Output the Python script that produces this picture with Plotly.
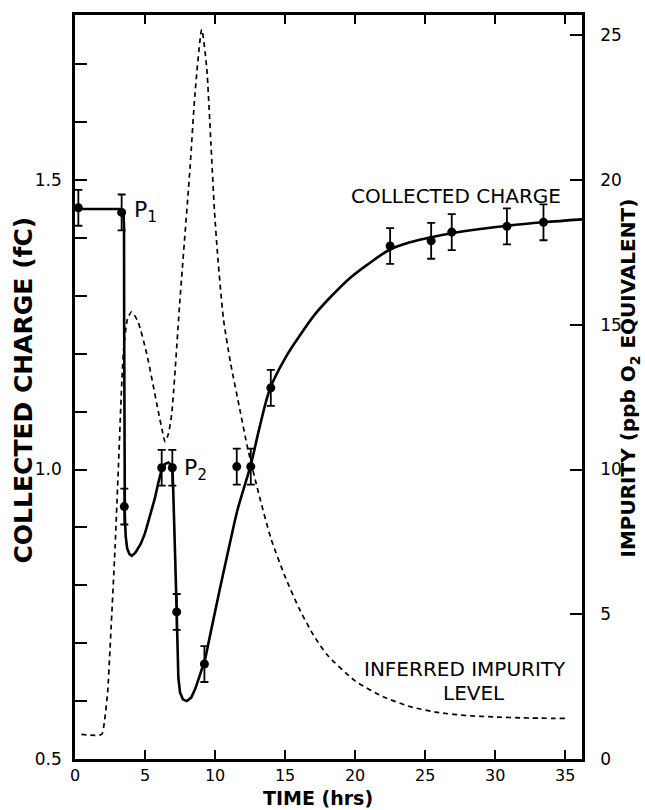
import plotly.graph_objects as go

# ---------------- data ----------------
# measured collected charge (fC) with error bars
pt_time = [0.24, 3.33, 3.52, 6.19, 6.95, 7.26, 9.24, 11.55, 12.55, 13.98,
           22.5, 25.43, 26.9, 30.84, 33.45]
pt_charge = [1.452, 1.444, 0.936, 1.003, 1.003, 0.754, 0.664, 1.005, 1.005,
             1.141, 1.386, 1.395, 1.41, 1.42, 1.427]
pt_err = [0.031] * len(pt_time)

# fitted collected-charge curve (solid): fast part with the sharp drops
fit_time_a = [0.0, 3.30, 3.45, 3.50, 3.51, 3.52, 3.53, 3.56, 3.62, 3.72,
              3.88, 4.05, 4.3, 4.7, 5.0, 5.36, 5.7, 5.95, 6.19, 6.45, 6.67,
              6.85, 6.95, 7.0, 7.05, 7.15, 7.26, 7.31, 7.38, 7.5, 7.7, 7.98,
              8.3, 8.6, 8.93, 9.29]
fit_charge_a = [1.450, 1.450, 1.447, 1.42, 1.25, 1.10, 0.98, 0.92, 0.885,
                0.864, 0.854, 0.851, 0.856, 0.872, 0.89, 0.92, 0.95, 0.977,
                1.000, 1.010, 1.012, 1.008, 1.003, 0.975, 0.94, 0.85, 0.754,
                0.69, 0.64, 0.615, 0.603, 0.600, 0.606, 0.622, 0.645, 0.672]
# ... and the slow recovery
fit_time_b = [9.29, 9.7, 10.4, 11.07, 11.6, 12.02, 12.55, 13.2, 13.93, 15.0,
              16.07, 17.2, 18.45, 19.6, 20.83, 22.5, 24.0, 25.43, 26.9, 28.8,
              30.84, 33.45, 36.2]
fit_charge_b = [0.672, 0.72, 0.80, 0.874, 0.93, 0.965, 1.008, 1.075, 1.14,
                1.192, 1.232, 1.27, 1.303, 1.33, 1.353, 1.38, 1.393, 1.401,
                1.408, 1.415, 1.421, 1.427, 1.432]

# inferred impurity level (ppb O2 equivalent, dashed)
imp_time = [0.45, 1.9, 2.1, 2.33, 2.5, 2.86, 3.1, 3.45, 3.75, 4.05, 4.5,
            5.12, 5.95, 6.25, 6.43, 6.65, 6.9, 7.5, 8.21, 8.57, 9.05, 9.4,
            9.7, 9.95, 10.2, 10.6, 11.1, 11.8, 12.3, 13.1, 14.0, 15.0, 16.0,
            17.0, 18.0, 20.0, 22.0, 24.0, 26.0, 28.0, 30.0, 32.0, 35.1]
imp_level = [0.85, 0.85, 1.3, 2.3, 3.8, 7.3, 10.1, 14.0, 15.2, 15.45, 15.1,
             14.0, 12.0, 11.3, 10.96, 11.2, 11.9, 15.9, 20.4, 23.0, 25.2,
             23.9, 21.3, 19.0, 17.3, 15.2, 13.7, 12.0, 10.8, 9.2, 7.6, 6.3,
             5.2, 4.3, 3.6, 2.7, 2.15, 1.8, 1.6, 1.5, 1.45, 1.42, 1.4]

x_ticks = [0, 5, 10, 15, 20, 25, 30, 35]
left_ticks = [0.5, 1.0, 1.5]
left_labels = ["0.5", "1.0", "1.5"]
left_minor_ticks = [0.6, 0.7, 0.8, 0.9, 1.1, 1.2, 1.3, 1.4, 1.6, 1.7]
right_ticks = [0, 5, 10, 15, 20, 25]

# ---------------- figure ----------------
W, H = 645, 810
L, R, T, B = 75, 63, 12, 51
FONT = "DejaVu Sans"

fig = go.Figure()

fig.add_trace(go.Scatter(
    x=imp_time, y=imp_level, mode="lines", yaxis="y2",
    line=dict(color="black", width=1.7, dash="5px,4px", shape="spline",
              smoothing=0.6),
    hoverinfo="skip", showlegend=False))

fig.add_trace(go.Scatter(
    x=fit_time_a, y=fit_charge_a, mode="lines",
    line=dict(color="black", width=2.6),
    hoverinfo="skip", showlegend=False))

fig.add_trace(go.Scatter(
    x=fit_time_b, y=fit_charge_b, mode="lines",
    line=dict(color="black", width=2.6, shape="spline", smoothing=1.0),
    hoverinfo="skip", showlegend=False))

fig.add_trace(go.Scatter(
    x=pt_time, y=pt_charge, mode="markers",
    marker=dict(color="black", size=9),
    error_y=dict(type="data", array=pt_err, color="black", thickness=1.8,
                 width=4),
    showlegend=False))

axis_common = dict(showline=True, linecolor="black", linewidth=2.5,
                   ticks="inside", tickcolor="black", tickwidth=2,
                   showgrid=False, zeroline=False)
tf17 = dict(family=FONT, size=17, color="black")
tf16 = dict(family=FONT, size=16, color="black")

fig.update_layout(
    width=W, height=H,
    margin=dict(l=L, r=R, t=T, b=B, pad=0),
    paper_bgcolor="white", plot_bgcolor="white",
    xaxis=dict(range=[0, 36.2], tickvals=x_ticks, ticklen=9, tickfont=tf16,
               mirror="ticks", ticklabelstandoff=0, **axis_common),
    yaxis=dict(range=[0.5, 1.785], tickvals=left_ticks, ticktext=left_labels,
               ticklen=12, ticklabelstandoff=7, tickfont=tf17,
               minor=dict(tickvals=left_minor_ticks, ticks="inside",
                          ticklen=12, tickwidth=2, tickcolor="black",
                          showgrid=False),
               **axis_common),
    yaxis2=dict(range=[0, 25.7], tickvals=right_ticks, overlaying="y",
                side="right", ticklen=12, ticklabelstandoff=12, tickfont=tf17,
                **axis_common),
)

pw, ph = W - L - R, H - T - B


def px2paper(px, py):
    return (px - L) / pw, (H - B - py) / ph


annos = []
# axis titles
ax, ay = px2paper(23, 389)
annos.append(dict(x=ax, y=ay, text="COLLECTED CHARGE (fC)", textangle=-90,
                  xanchor="center", yanchor="middle",
                  font=dict(family=FONT, size=25, color="black", weight="bold")))
ax, ay = px2paper(629, 377)
annos.append(dict(x=ax, y=ay, text="IMPURITY (ppb O<sub>2</sub> EQUIVALENT)",
                  textangle=-90, xanchor="center", yanchor="middle",
                  font=dict(family=FONT, size=20, color="black", weight="bold")))
ax, ay = px2paper(318, 810)
annos.append(dict(x=ax, y=ay, text="TIME (hrs)", xanchor="center",
                  yanchor="bottom", borderpad=0,
                  font=dict(family=FONT, size=19, color="black", weight="bold")))
for a in annos:
    a.update(xref="paper", yref="paper", showarrow=False)

# labels in the plot
lab_font = dict(family=FONT, size=20, color="black")
ax, ay = px2paper(132, 209)
annos.append(dict(x=ax, y=ay, text="P<sub>1</sub>", xanchor="left",
                  yanchor="middle", font=dict(family=FONT, size=22,
                                              color="black")))
ax, ay = px2paper(182, 468)
annos.append(dict(x=ax, y=ay, text="P<sub>2</sub>", xanchor="left",
                  yanchor="middle", font=dict(family=FONT, size=22,
                                              color="black")))
ax, ay = px2paper(456, 194)
annos.append(dict(x=ax, y=ay, text="COLLECTED CHARGE", xanchor="center",
                  yanchor="middle", font=lab_font))
ax, ay = px2paper(568, 669)
annos.append(dict(x=ax, y=ay, text="INFERRED IMPURITY", xanchor="right",
                  yanchor="middle", font=lab_font))
ax, ay = px2paper(441, 693)
annos.append(dict(x=ax, y=ay, text="LEVEL", xanchor="left",
                  yanchor="middle", font=lab_font))
for a in annos[3:]:
    a.update(xref="paper", yref="paper", showarrow=False)

fig.update_layout(annotations=annos)

fig.write_html("out.html")
